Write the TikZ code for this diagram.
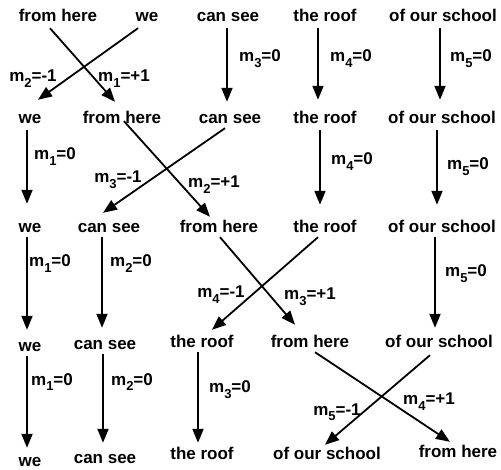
\documentclass[tikz,border=0pt]{standalone}
\usepackage{fontspec}
\setmainfont{Liberation Sans}
\usetikzlibrary{arrows.meta,calc}
\newcommand\sbs[1]{\raisebox{-0.3em}{\fontsize{13}{13}\selectfont #1}}
\tikzset{
  wd/.style={anchor=base, inner sep=0pt, text height=13pt, text depth=4pt,
    font=\fontsize{17}{20}\selectfont\bfseries},
  lbl/.style={anchor=base, inner sep=0pt, font=\fontsize{17}{20}\selectfont\bfseries},
  arr/.style={line width=1.8pt, -{Triangle[length=14pt,width=11pt]}}
}
\begin{document}
\begin{tikzpicture}[x=1pt,y=-1pt]
\useasboundingbox[fill=white] (0,0) rectangle (501,470);
% row 1
\node[wd] (f1) at (58,22) {from here};
\node[wd] (w1) at (147,22) {we};
\node[wd] (c1) at (228,22) {can see};
\node[wd] (t1) at (325,22) {the roof};
\node[wd] (o1) at (443,22) {of our school};
% row 2
\node[wd] (w2) at (30,124) {we};
\node[wd] (f2) at (122,124) {from here};
\node[wd] (c2) at (230,124) {can see};
\node[wd] (t2) at (325,124) {the roof};
\node[wd] (o2) at (442,124) {of our school};
% row 3
\node[wd] (w3) at (30,233) {we};
\node[wd] (c3) at (109,233) {can see};
\node[wd] (f3) at (219,233) {from here};
\node[wd] (t3) at (325,233) {the roof};
\node[wd] (o3) at (442,233) {of our school};
% row 4
\node[wd] (w4) at (30,352) {we};
\node[wd] (c4) at (105,350) {can see};
\node[wd] (t4) at (202,348) {the roof};
\node[wd] (f4) at (310,348) {from here};
\node[wd] (o4) at (439,348) {of our school};
% row 5
\node[wd] (w5) at (30,466) {we};
\node[wd] (c5) at (105,463) {can see};
\node[wd] (t5) at (202,460) {the roof};
\node[wd] (o5) at (327,460) {of our school};
\node[wd] (f5) at (458,457) {from here};

% arrows row 1 -> 2
\draw[arr] ($(f1.south)+(-8,2)$) -- ($(f2.north)+(-7,-9)$);
\draw[arr] ($(w1.south)+(-9,2)$) -- ($(w2.north)+(8,-11)$);
\draw[arr] ($(c1.south)+(-1,2)$) -- ($(c1.south|-c2.north)+(-1,-9)$);
\draw[arr] ($(t1.south)+(-7,2)$) -- ($(t2.north)+(-7,-11)$);
\draw[arr] ($(o1.south)+(-3,2)$) -- ($(o2.north)+(-2,-11)$);
% arrows row 2 -> 3
\draw[arr] ($(w2.south)+(-3,2)$) -- ($(w3.north)+(-3,-16)$);
\draw[arr] ($(f2.south)+(2,-7)$) -- ($(f3.north)+(-9,-3)$);
\draw[arr] ($(c2.south)+(-5,0)$) -- ($(c3.north)+(-6,-7)$);
\draw[arr] ($(t2.south)+(-5,2)$) -- ($(t3.north)+(-5,-15)$);
\draw[arr] ($(o2.south)+(-5,2)$) -- ($(o3.north)+(-5,-15)$);
% arrows row 3 -> 4
\draw[arr] ($(w3.south)+(-3,0)$) -- ($(w4.north)+(-3,-9)$);
\draw[arr] ($(c3.south)+(-7,0)$) -- ($(c4.north)+(-3,-9)$);
\draw[arr] ($(f3.south)+(1,0)$) -- ($(f4.north)+(-15,-10)$);
\draw[arr] ($(t3.south)+(-7,0)$) -- ($(t4.north)+(10,-5)$);
\draw[arr] ($(o3.south)+(-7,0)$) -- ($(o4.north)+(-4,-7)$);
% arrows row 4 -> 5
\draw[arr] ($(w4.south)+(-3,0)$) -- ($(w5.north)+(-3,-5)$);
\draw[arr] ($(c4.south)+(-2,0)$) -- ($(c5.north)+(-2,-7)$);
\draw[arr] ($(t4.south)+(-4,0)$) -- ($(t5.north)+(-4,-4)$);
\draw[arr] ($(f4.south)+(5,0)$) -- ($(f5.north)+(-8,-2)$);
\draw[arr] ($(o4.south)+(-9,3)$) -- ($(o5.north)+(-2,-2)$);

% labels
\node[lbl] (l12a) at (33,82) {m\sbs{2}=-1};
\node[lbl] (l12b) at (124,82) {m\sbs{1}=+1};
\node[lbl] (l12c) at (260,62) {m\sbs{3}=0};
\node[lbl] (l12d) at (351,62) {m\sbs{4}=0};
\node[lbl] (l12e) at (471,62) {m\sbs{5}=0};

\node[lbl] (l23a) at (55,160) {m\sbs{1}=0};
\node[lbl] (l23b) at (118,183) {m\sbs{3}=-1};
\node[lbl] (l23c) at (214,188) {m\sbs{2}=+1};
\node[lbl] (l23d) at (352,165) {m\sbs{4}=0};
\node[lbl] (l23e) at (468,170) {m\sbs{5}=0};

\node[lbl] (l34a) at (50,267) {m\sbs{1}=0};
\node[lbl] (l34b) at (131,267) {m\sbs{2}=0};
\node[lbl] (l34c) at (221,298) {m\sbs{4}=-1};
\node[lbl] (l34d) at (310,300) {m\sbs{3}=+1};
\node[lbl] (l34e) at (466,277) {m\sbs{5}=0};

\node[lbl] (l45a) at (52,385) {m\sbs{1}=0};
\node[lbl] (l45b) at (132,385) {m\sbs{2}=0};
\node[lbl] (l45c) at (230,393) {m\sbs{3}=0};
\node[lbl] (l45d) at (337,415) {m\sbs{5}=-1};
\node[lbl] (l45e) at (429,405) {m\sbs{4}=+1};
\end{tikzpicture}
\end{document}
